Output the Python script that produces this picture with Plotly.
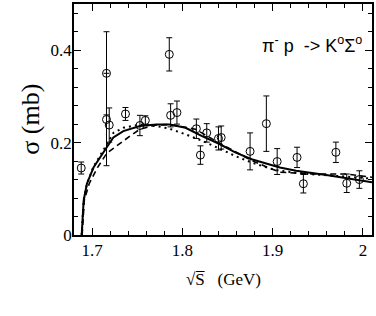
import plotly.graph_objects as go

# data points
data_x = [1.688, 1.716, 1.716, 1.719, 1.737, 1.753, 1.759, 1.7855, 1.787, 1.794,
          1.8155, 1.820, 1.827, 1.840, 1.843, 1.875, 1.893, 1.905, 1.927, 1.934,
          1.970, 1.982, 1.996]
data_y = [0.145, 0.350, 0.250, 0.238, 0.262, 0.237, 0.248, 0.391, 0.259, 0.265,
          0.230, 0.173, 0.221, 0.209, 0.211, 0.181, 0.241, 0.159, 0.168, 0.111,
          0.179, 0.112, 0.120]
data_err = [0.013, 0.090, 0.100, 0.037, 0.014, 0.022, 0.010, 0.036, 0.025, 0.025,
            0.021, 0.020, 0.020, 0.025, 0.025, 0.040, 0.060, 0.028, 0.022, 0.020,
            0.022, 0.020, 0.019]

# model curves
solid_x = [1.6885, 1.6895, 1.6907, 1.6943, 1.7016, 1.7163, 1.7236, 1.7346, 1.753,
           1.7712, 1.786, 1.8035, 1.8218, 1.840, 1.8585, 1.8767, 1.895, 1.908,
           1.926, 1.963, 2.010]
solid_y = [0.0, 0.045, 0.075, 0.111, 0.146, 0.190, 0.211, 0.225, 0.236,
           0.239, 0.239, 0.232, 0.214, 0.198, 0.179, 0.164, 0.154, 0.146,
           0.139, 0.129, 0.114]

dashed_x = [1.689, 1.690, 1.6914, 1.6968, 1.706, 1.7163, 1.727, 1.742, 1.753,
            1.7712, 1.786, 1.8145, 1.840, 1.877, 1.895, 1.908, 1.945, 1.982, 2.010]
dashed_y = [0.0, 0.045, 0.075, 0.111, 0.146, 0.177, 0.193, 0.214, 0.229,
            0.238, 0.239, 0.229, 0.200, 0.161, 0.146, 0.136, 0.132, 0.132, 0.125]

dotted_x = [1.6885, 1.6895, 1.6907, 1.6943, 1.7016, 1.716, 1.7236, 1.7346, 1.753,
            1.7712, 1.786, 1.8035, 1.8218, 1.840, 1.8585, 1.8767, 1.895, 1.908,
            1.94, 1.97, 2.010]
dotted_y = [0.0, 0.045, 0.075, 0.111, 0.148, 0.195, 0.221, 0.232, 0.239,
            0.236, 0.230, 0.218, 0.204, 0.188, 0.171, 0.157, 0.145, 0.139,
            0.132, 0.128, 0.122]

x_ticks = [1.7, 1.8, 1.9, 2.0]
x_ticklabels = ["1.7", "1.8", "1.9", "2"]
y_ticks = [0, 0.2, 0.4]
y_ticklabels = ["0", "0.2", "0.4"]

fig = go.Figure()
fig.add_trace(go.Scatter(x=solid_x, y=solid_y, mode="lines",
                         line=dict(color="black", width=2)))
fig.add_trace(go.Scatter(x=dashed_x, y=dashed_y, mode="lines",
                         line=dict(color="black", width=1.6, dash="6px,4px")))
fig.add_trace(go.Scatter(x=dotted_x, y=dotted_y, mode="lines",
                         line=dict(color="black", width=2, dash="2px,4px")))
fig.add_trace(go.Scatter(x=data_x, y=data_y, mode="markers",
                         marker=dict(symbol="circle-open", size=8,
                                     color="black", line=dict(width=1)),
                         error_y=dict(type="data", array=data_err, visible=True,
                                      color="black", thickness=1, width=3)))

serif = "Liberation Serif"
axis_common = dict(showline=True, linecolor="black", linewidth=1.5, mirror="allticks",
                   ticks="inside", ticklen=7, tickwidth=1, tickcolor="black",
                   showgrid=False, zeroline=False,
                   tickfont=dict(family=serif, size=17, color="black"))

fig.update_xaxes(range=[1.68, 2.01], tickvals=x_ticks, ticktext=x_ticklabels,
                 ticklabelstandoff=-1,
                 minor=dict(dtick=0.02, ticks="inside", ticklen=4, tickcolor="black",
                            tick0=1.7, showgrid=False),
                 **axis_common)
fig.update_yaxes(range=[0, 0.5], tickvals=y_ticks, ticktext=y_ticklabels,
                 ticklabelstandoff=-3,
                 minor=dict(dtick=0.04, ticks="inside", ticklen=4, tickcolor="black",
                            tick0=0, showgrid=False),
                 **axis_common)

fig.add_annotation(xref="paper", yref="paper", x=0.972, y=0.826,
                   xanchor="right", yanchor="middle", showarrow=False,
                   text="π<sup>-</sup> p&nbsp;&nbsp;-> K<sup>o</sup>Σ<sup>o</sup>",
                   font=dict(family="Liberation Sans", size=18, color="black"))
fig.add_annotation(xref="paper", yref="paper", x=-0.147, y=0.5,
                   xanchor="center", yanchor="middle", showarrow=False, textangle=-90,
                   text="σ (mb)",
                   font=dict(family=serif, size=26, color="black"))
fig.add_annotation(xref="paper", yref="paper", x=0.5, y=-0.193,
                   xanchor="center", yanchor="middle", showarrow=False,
                   text="√S\u0305&nbsp;&nbsp;&nbsp;(GeV)",
                   font=dict(family=serif, size=17, color="black"))

fig.update_layout(width=376, height=316, showlegend=False,
                  margin=dict(l=74, r=2, t=2, b=81),
                  plot_bgcolor="white", paper_bgcolor="white",
                  font=dict(family=serif, color="black"))

fig.write_html("out.html", config={"displayModeBar": False},
               post_script="document.body.style.margin='0px';")
